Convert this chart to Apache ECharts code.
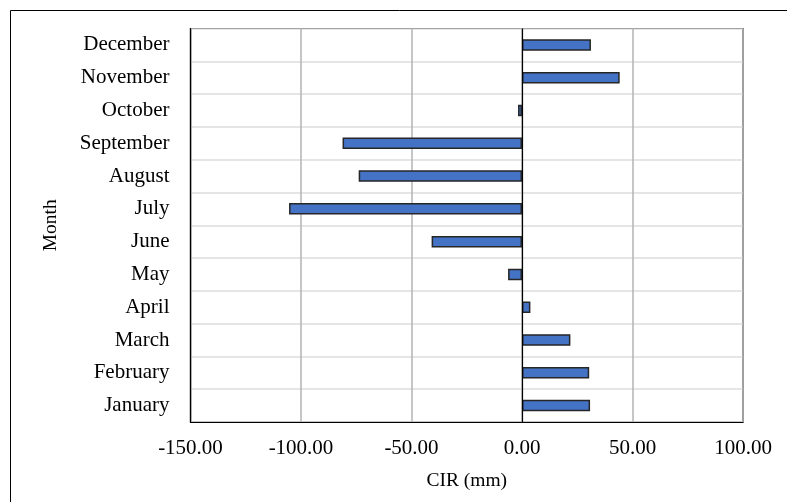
<!DOCTYPE html>
<html>
<head>
<meta charset="utf-8">
<script src="https://cdn.jsdelivr.net/npm/echarts@6/dist/echarts.min.js"></script>
<style>
html,body{margin:0;padding:0;background:#fff;}
#c{width:787px;height:502px;}
</style>
</head>
<body>
<div id="c"></div>
<script>
const months = ["January","February","March","April","May","June","July","August","September","October","November","December"];
const cirValues = [30.8, 30.4, 21.9, 3.8, -6.3, -40.9, -105.4, -73.9, -81.2, -1.8, 44.2, 31.2];
const xTicks = {min: -150, max: 100, step: 50};

const chart = echarts.init(document.getElementById('c'), null, {renderer: 'canvas'});
const font = '"Liberation Serif", "Times New Roman", serif';
chart.setOption({
  animation: false,
  backgroundColor: '#fff',
  graphic: [{
    type: 'rect', silent: true,
    shape: {x: 10.5, y: 10.5, width: 800, height: 600},
    style: {fill: 'none', stroke: '#000', lineWidth: 1}
  }],
  grid: {
    left: 190.5, right: 44, top: 28.5, bottom: 80,
    show: true, borderColor: '#000', borderWidth: 1.2, backgroundColor: 'transparent'
  },
  xAxis: {
    type: 'value',
    min: xTicks.min, max: xTicks.max, interval: xTicks.step,
    name: 'CIR (mm)', nameLocation: 'middle', nameGap: 49,
    nameTextStyle: {fontFamily: font, fontSize: 19.5, color: '#000'},
    axisLine: {show: true, onZero: false, lineStyle: {color: '#000', width: 1.2}},
    axisTick: {show: false},
    axisLabel: {fontFamily: font, fontSize: 21, color: '#000', margin: 16,
      formatter: v => v.toFixed(2)},
    splitLine: {show: true, lineStyle: {color: '#b3b3b3', width: 1.5}}
  },
  yAxis: {
    type: 'category',
    data: months,
    name: 'Month', nameLocation: 'middle', nameGap: 130, nameRotate: 90,
    nameTextStyle: {fontFamily: font, fontSize: 19.5, color: '#000'},
    axisLine: {show: true, onZero: false, lineStyle: {color: '#000', width: 1.2}},
    axisTick: {show: false},
    axisLabel: {fontFamily: font, fontSize: 21, color: '#000', margin: 21},
    splitLine: {show: true, lineStyle: {color: '#dcdcdc', width: 1.5}}
  },
  series: [{
    type: 'bar',
    data: cirValues,
    barWidth: '35%',
    itemStyle: {color: '#4472C4', borderColor: '#262626', borderWidth: 1.5},
    markLine: {
      silent: true, symbol: 'none', label: {show: false},
      lineStyle: {color: '#000', type: 'solid', width: 1.2},
      data: [{xAxis: 0}]
    }
  }]
});
</script>
</body>
</html>
